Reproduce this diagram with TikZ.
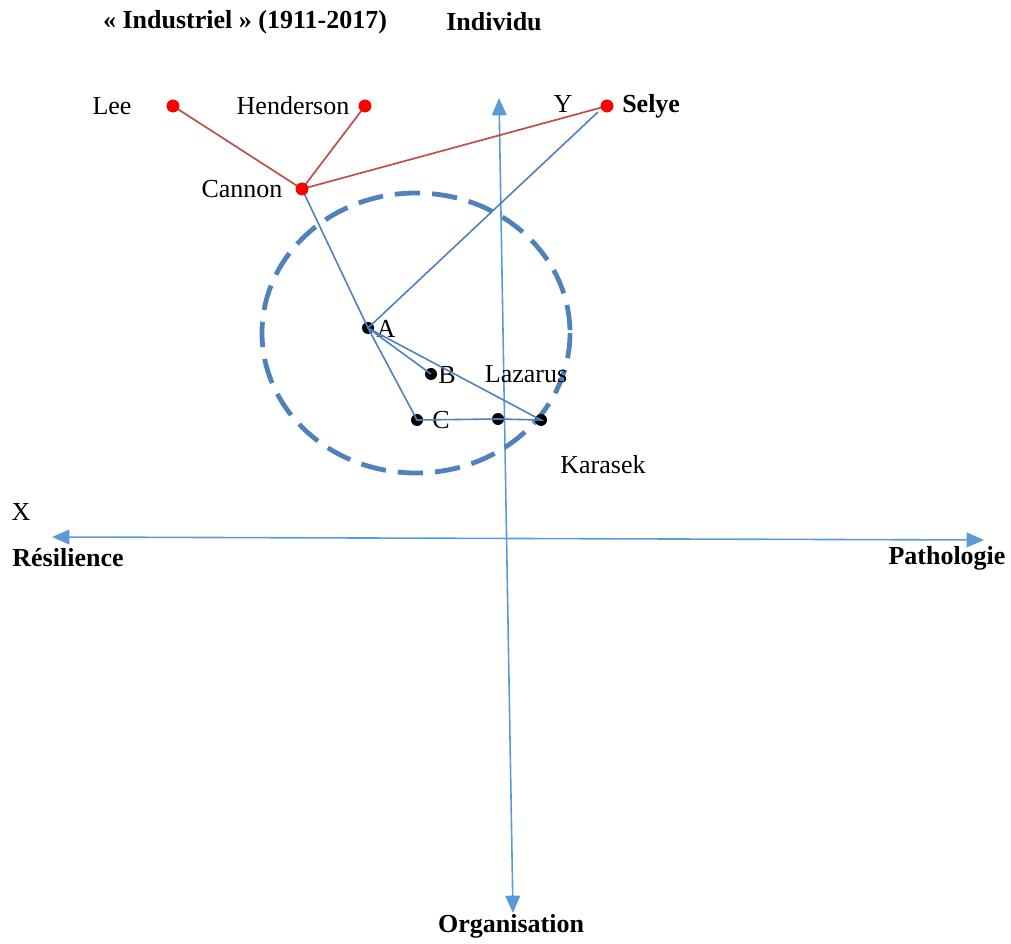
\documentclass[tikz,border=0pt]{standalone}
\usepackage{fontspec}
\setmainfont{Liberation Serif}
\usetikzlibrary{arrows.meta}
\definecolor{axisblue}{RGB}{91,155,213}
\definecolor{lineblue}{RGB}{79,129,189}
\definecolor{linered}{RGB}{192,80,77}
\begin{document}
\begin{tikzpicture}[x=0.75pt,y=-0.75pt,
  lbl/.style={inner sep=0pt,font=\fontsize{19.5}{23}\selectfont},
  blbl/.style={lbl,font=\fontsize{19.5}{23}\selectfont\bfseries},
  rdot/.style={circle,fill=red,inner sep=0pt,minimum size=9.5pt},
  bdot/.style={circle,fill=black,inner sep=0pt,minimum size=9pt},
  redline/.style={draw=linered,line width=1.3pt},
  blueline/.style={draw=lineblue,line width=1.2pt},
  axis/.style={draw=axisblue,line width=1.2pt,{Triangle[length=13pt,width=11pt]}-{Triangle[length=13pt,width=11pt]}}]
\useasboundingbox (0,0) rectangle (1011,944);
% titles
\node[blbl] (title) at (245,22) {« Industriel » (1911-2017)};
\node[blbl] (indiv) at (494,22) {Individu};
% axes
\coordinate (xl) at (52,537);
\coordinate (xr) at (984,540);
\coordinate (yt) at (499,98);
\coordinate (yb) at (513,913);
\draw[axis] (xl) -- (xr);
\draw[axis] (yb) -- (yt);
\node[lbl] (X) at (21,512) {X};
\node[lbl] (Y) at (563,104) {Y};
\node[blbl] (res) at (68,558) {Résilience};
\node[blbl] (path) at (947,558) {Pathologie};
\node[blbl] (org) at (511,926) {Organisation};
% dashed circle
\draw[draw=lineblue,line width=3.6pt,dash pattern=on 19pt off 9pt] (416,333) ellipse [x radius=154, y radius=140];
% red nodes
\node[rdot] (lee) at (173,106) {};
\node[rdot] (hen) at (365,106) {};
\node[rdot] (can) at (302,189) {};
\node[rdot] (sel) at (607,106) {};
\node[lbl] (leet) at (112,106) {Lee};
\node[lbl] (hent) at (293,106) {Henderson};
\node[lbl] (cant) at (242,189) {Cannon};
\node[blbl,anchor=west] (selt) at (622,106) {Selye};
% black nodes
\node[bdot] (A) at (368,328) {};
\node[bdot] (B) at (431,374) {};
\node[bdot] (C) at (417,420) {};
\node[bdot] (D) at (498,419) {};
\node[bdot] (K) at (541,420) {};
\node[lbl] (At) at (386,329) {A};
\node[lbl] (Bt) at (447,375) {B};
\node[lbl] (Ct) at (441,420) {C};
\node[lbl] (laz) at (526,374) {Lazarus};
\node[lbl] (kar) at (603,465) {Karasek};
% blue lines
\coordinate (selin) at (598,112);
\draw[blueline] (can.center) -- (A.center) -- (C.center) -- (D.center) -- (K.center) -- (A.center) -- (B.center);
\draw[blueline] (A.center) -- (selin);
% red lines
\draw[redline] (lee.center) -- (can.center) -- (hen.center);
\draw[redline] (can.center) -- (sel.center);
\node[rdot] at (lee) {};
\node[rdot] at (hen) {};
\node[rdot] at (can) {};
\node[rdot] at (sel) {};
\end{tikzpicture}
\end{document}
